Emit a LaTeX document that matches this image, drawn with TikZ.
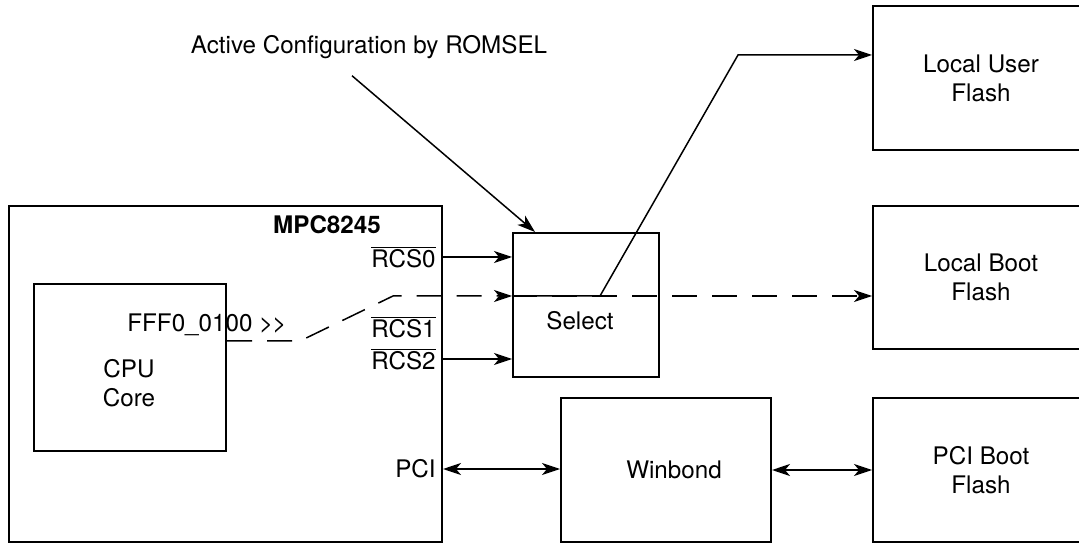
\documentclass[tikz,border=0pt]{standalone}
\usepackage{fontspec}
\setmainfont{TeX Gyre Heros}
\usetikzlibrary{arrows.meta, calc}

\newcommand{\barsig}[1]{$\overline{\mbox{#1}}$}

\begin{document}
\begin{tikzpicture}[
    x=0.5pt, y=-0.5pt,
    every node/.style={font=\fontsize{12.1}{14.5}\selectfont},
    box/.style={draw, line width=1pt, inner sep=0pt, align=center,
                anchor=north west},
    sig/.style={anchor=east, inner sep=0pt},
    arr/.style={-{Stealth[length=9pt, width=6pt, inset=2.5pt]}, line width=0.75pt},
    darr/.style={{Stealth[length=9pt, width=6pt, inset=2.5pt]}-{Stealth[length=9pt, width=6pt, inset=2.5pt]},
                 line width=0.75pt},
    dline/.style={dash pattern=on 12.5pt off 7.5pt}
  ]
    \useasboundingbox (0,0) rectangle (1079,544);

    % blocks
    \node[box, minimum width=216.5pt, minimum height=168pt] (mpc) at (8,205) {};
    \node[font=\fontsize{12.1}{14.5}\selectfont\bfseries] (mpclbl) at (327,225) {MPC8245};
    \node[box, minimum width=96pt, minimum height=83.5pt] (cpu) at (33,283) {};
    \node[align=center] (cpulbl) at (129,383) {CPU\\Core};
    \node[anchor=west, inner sep=0pt] (addr) at (127,325)
      {FFF0\_0100 \textgreater\kern-0.5pt\textgreater};

    \node[box, minimum width=73pt, minimum height=72pt] (select) at (512,232) {};
    \node (selectlbl) at (580,321) {Select};

    \node[box, minimum width=108pt, minimum height=72pt] (user) at (872,5)
      {Local User\\Flash};
    \node[box, minimum width=108pt, minimum height=71.5pt] (boot) at (872,205)
      {Local Boot\\Flash};
    \node[box, minimum width=105pt, minimum height=72pt] (winbond) at (560,397)
      {\hspace*{8pt}Winbond};
    \node[box, minimum width=108pt, minimum height=72pt] (pcib) at (872,397)
      {PCI Boot\\Flash};

    % signal names on the MPC8245 edge
    \node[sig] (rcs0) at (436,257) {\barsig{RCS0}};
    \node[sig] (rcs1) at (436,327) {\barsig{RCS1}};
    \node[sig] (rcs2) at (436,359) {\barsig{RCS2}};
    \node[sig] (pci) at (436,469) {PCI};

    \node (note) at (369,47) {Active Configuration by ROMSEL};

    % chip selects
    \draw[arr] (rcs0.east -| mpc.east) -- (rcs0.east -| select.west);
    \draw[arr] (rcs2.east -| mpc.east) -- (rcs2.east -| select.west);

    % boot fetch path
    \coordinate (bend1) at (300,341);
    \coordinate (bend2) at (393,296);
    \draw[arr, dline] (cpu.east |- bend1) -- (bend1) -- (bend2) -- (bend2 -| select.west);
    \draw[arr, dline] (bend2 -| select.west) -- (bend2 -| boot.west);

    % switch inside select
    \coordinate (sw1) at (600,296);
    \coordinate (sw2) at (738,55);
    \draw[arr] (bend2 -| select.west) -- (sw1) -- (sw2) -- (sw2 -| user.west);

    \draw[arr] ([xshift=-8.5pt, yshift=-5pt]note.south) -- ([xshift=11.5pt]select.north west);

    % PCI side
    \draw[darr] (pci.east -| mpc.east) -- (pci.east -| winbond.west);
    \draw[darr] (winbond.east) -- (pcib.west);
\end{tikzpicture}
\end{document}
